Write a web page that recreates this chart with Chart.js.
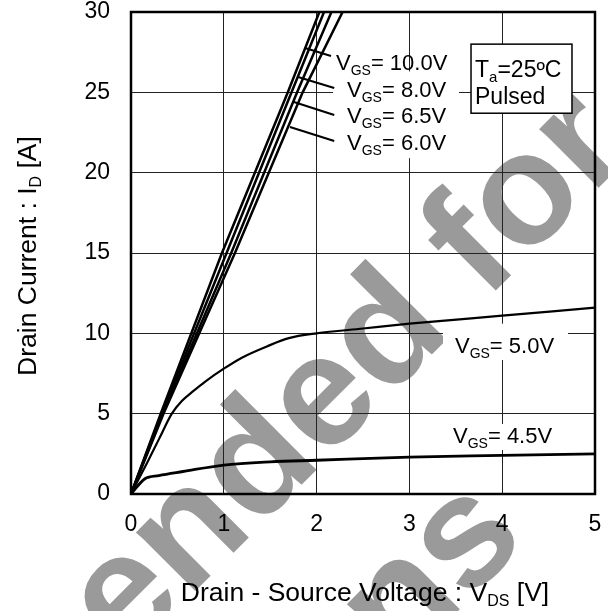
<!DOCTYPE html>
<html>
<head>
<meta charset="utf-8">
<script src="https://cdn.jsdelivr.net/npm/chart.js"></script>
<style>
  body { margin: 0; background: #fff; }
</style>
</head>
<body>
<canvas id="chart" width="608" height="611"></canvas>
<script>
// ID - VDS output characteristics, Ta = 25ºC, pulsed
const idLinear = [0, 5, 15, 25, 30];
const vds10V = [0, 0.32, 0.98, 1.69, 2.03];
const vds8V = [0, 0.33, 1.03, 1.73, 2.08];
const vds65V = [0, 0.34, 1.08, 1.79, 2.16];
const vds6V = [0, 0.35, 1.12, 1.85, 2.28];

const vds5V = [0, 0.17, 0.3, 0.44, 0.55, 0.67, 0.8, 1.0, 1.2, 1.47, 1.7, 2.0, 2.5, 3, 4, 5];
const id5V = [0, 1.9, 3.4, 5.0, 5.8, 6.4, 7.0, 7.8, 8.5, 9.2, 9.7, 10.0, 10.3, 10.6, 11.1, 11.6];

const vds45V = [0, 0.15, 0.3, 0.56, 1, 1.5, 2, 3, 4, 5];
const id45V = [0, 0.95, 1.15, 1.4, 1.8, 2.0, 2.1, 2.3, 2.4, 2.5];

const xTicks = [0, 1, 2, 3, 4, 5];
const yTicks = [0, 5, 10, 15, 20, 25, 30];
const vgsNames = ['10.0V', '8.0V', '6.5V', '6.0V', '5.0V', '4.5V'];

const FONT = '"Liberation Sans", Arial, sans-serif';

function pts(xs, ys) {
    return xs.map((x, i) => ({ x: x, y: ys[i] }));
}

function series(xs, ys, width, smooth) {
    return {
        data: pts(xs, ys),
        borderColor: '#000',
        borderWidth: width,
        pointRadius: 0,
        fill: false,
        tension: 0,
        cubicInterpolationMode: smooth ? 'monotone' : 'default'
    };
}

// text with subscripts: parts = [text, isSub]
function drawParts(ctx, parts, x, y, size, subSize, align) {
    let total = 0;
    parts.forEach(p => {
        ctx.font = (p[1] ? subSize : size) + 'px ' + FONT;
        total += ctx.measureText(p[0]).width;
    });
    let cx = x;
    if (align === 'center') cx = x - total / 2;
    ctx.textAlign = 'left';
    ctx.textBaseline = 'alphabetic';
    parts.forEach(p => {
        ctx.font = (p[1] ? subSize : size) + 'px ' + FONT;
        ctx.fillText(p[0], cx, p[1] ? y + 5 : y);
        cx += ctx.measureText(p[0]).width;
    });
}

function noPad(s) {
    s.paddingTop = 0;
    s.paddingBottom = 0;
    s.paddingLeft = 0;
    s.paddingRight = 0;
}

const watermark = {
    id: 'watermark',
    beforeDraw(chart) {
        const ctx = chart.ctx;
        ctx.save();
        ctx.fillStyle = '#fff';
        ctx.fillRect(0, 0, chart.width, chart.height);
        ctx.rotate(-Math.PI / 4);
        ctx.fillStyle = '#9a9a9a';
        ctx.font = 'bold 158px ' + FONT;
        ctx.textAlign = 'right';
        ctx.textBaseline = 'alphabetic';
        ctx.fillText('Not recommended for', 341, 556);
        ctx.fillText('new designs', -8, 756);
        ctx.restore();
    }
};

const notes = {
    id: 'notes',
    afterDatasetsDraw(chart) {
        const ctx = chart.ctx;
        const sx = chart.scales.x, sy = chart.scales.y;
        const X = v => sx.getPixelForValue(v);
        const Y = v => sy.getPixelForValue(v);
        const ca = chart.chartArea;
        ctx.save();

        // white backing behind labels (breaks the grid)
        ctx.fillStyle = '#fff';
        const boxes = [
            [2.177, 26.3, 3.534, 20.9],
            [3.362, 10.6, 4.709, 8.34],
            [3.384, 4.36, 4.623, 2.74]
        ];
        boxes.forEach(b => {
            ctx.fillRect(X(b[0]), Y(b[1]), X(b[2]) - X(b[0]), Y(b[3]) - Y(b[1]));
        });

        // leader lines
        ctx.strokeStyle = '#000';
        ctx.lineWidth = 2;
        const leaders = [
            [1.875, 27.76, 2.155, 27.26],
            [1.80, 25.95, 2.19, 25.27],
            [1.756, 24.40, 2.19, 23.59],
            [1.713, 22.84, 2.19, 21.97]
        ];
        leaders.forEach(l => {
            ctx.beginPath();
            ctx.moveTo(X(l[0]), Y(l[1]));
            ctx.lineTo(X(l[2]), Y(l[3]));
            ctx.stroke();
        });

        // VGS labels
        ctx.fillStyle = '#000';
        const spots = [
            [2.209, 26.39], [2.328, 24.74], [2.328, 23.09],
            [2.328, 21.44], [3.491, 8.776], [3.470, 3.174]
        ];
        vgsNames.forEach((n, i) => {
            drawParts(ctx, [['V', false], ['GS', true], ['= ' + n, false]],
                X(spots[i][0]), Y(spots[i][1]), 22, 14, 'left');
        });

        // condition box
        const bx = X(3.664), by = Y(28.0), bw = X(4.752) - bx, bh = Y(23.7) - by;
        ctx.fillStyle = '#fff';
        ctx.fillRect(bx, by, bw, bh);
        ctx.lineWidth = 1.5;
        ctx.strokeRect(bx, by, bw, bh);
        ctx.fillStyle = '#000';
        drawParts(ctx, [['T', false], ['a', true], ['=25ºC', false]], bx + 4, by + 33, 23, 15, 'left');
        drawParts(ctx, [['Pulsed', false]], bx + 4, by + 60, 23, 15, 'left');

        // plot frame
        ctx.lineWidth = 2.5;
        ctx.strokeRect(ca.left, ca.top, ca.right - ca.left, ca.bottom - ca.top);

        // axis titles
        drawParts(ctx, [['Drain - Source Voltage : V', false], ['DS', true], [' [V]', false]],
            (ca.left + ca.right) / 2 + 2, 601, 26.5, 16, 'center');
        ctx.translate(35.5, (ca.top + ca.bottom) / 2 + 3);
        ctx.rotate(-Math.PI / 2);
        drawParts(ctx, [['Drain Current : I', false], ['D', true], [' [A]', false]],
            0, 0, 26.5, 16, 'center');
        ctx.restore();
    }
};

new Chart(document.getElementById('chart'), {
    type: 'line',
    data: {
        datasets: [
            series(vds10V, idLinear, 2.5, false),
            series(vds8V, idLinear, 2.5, false),
            series(vds65V, idLinear, 2.5, false),
            series(vds6V, idLinear, 2.5, false),
            series(vds5V, id5V, 2.2, true),
            series(vds45V, id45V, 2.8, true)
        ]
    },
    options: {
        responsive: false,
        animation: false,
        devicePixelRatio: 1,
        layout: { padding: { top: 12, right: 13, left: 0, bottom: 0 } },
        plugins: { legend: { display: false }, tooltip: { enabled: false } },
        scales: {
            x: {
                type: 'linear',
                min: 0,
                max: 5,
                afterFit: s => { s.height = 117; noPad(s); },
                afterBuildTicks: s => { s.ticks = xTicks.map(v => ({ value: v })); },
                ticks: { color: '#000', font: { family: FONT, size: 23 }, padding: 17, maxRotation: 0 },
                grid: { color: '#222', lineWidth: 1, drawTicks: false },
                border: { display: false }
            },
            y: {
                type: 'linear',
                min: 0,
                max: 30,
                afterFit: s => { s.width = 131; noPad(s); },
                afterBuildTicks: s => { s.ticks = yTicks.map(v => ({ value: v })); },
                ticks: { color: '#000', font: { family: FONT, size: 23 }, padding: 21 },
                grid: { color: '#222', lineWidth: 1, drawTicks: false },
                border: { display: false }
            }
        }
    },
    plugins: [watermark, notes]
});
</script>
</body>
</html>
